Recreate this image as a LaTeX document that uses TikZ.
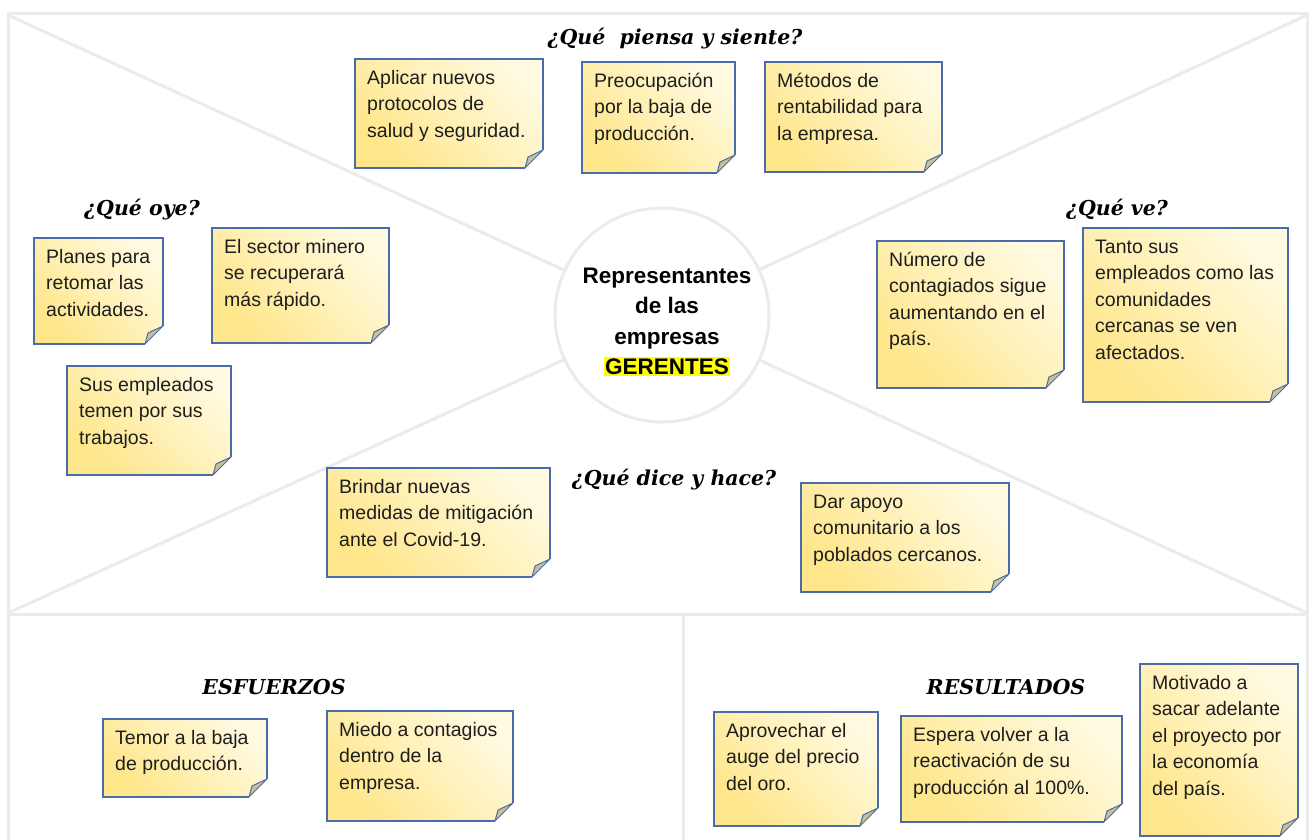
\documentclass[tikz,border=0pt]{standalone}
\usepackage{fontspec}
\setmainfont{Liberation Sans}
\newfontfamily\headfont{DejaVu Serif}
\definecolor{framecol}{HTML}{EBEBEB}
\definecolor{notelight}{HTML}{FFFAE0}
\definecolor{notedark}{HTML}{FFE68A}
\definecolor{noteedge}{HTML}{4A6CA8}
\definecolor{foldcol}{HTML}{C9BF98}
\definecolor{inkcol}{HTML}{1E1E1E}
\definecolor{hilite}{HTML}{FFFF00}
\newcommand\snote[6]{%
  \shade[bottom color=notedark, top color=notelight, shading angle=-45]
    (#2,#3) -- (#4,#3) -- (#4,#5-18) -- (#4-18,#5) -- (#2,#5) -- cycle;
  \draw[noteedge, line width=1.1pt, line join=miter]
    (#4-18,#5) -- (#2,#5) -- (#2,#3) -- (#4,#3) -- (#4,#5-18);
  \filldraw[fill=foldcol, draw=noteedge, line width=1pt, line join=round]
    (#4,#5-18) -- (#4-18,#5) -- (#4-15,#5-11) -- cycle;
  \node[notetext, anchor=north west] (#1) at (#2+12,#3+10) {\rule{0pt}{15pt}#6};
}
\begin{document}
\begin{tikzpicture}[x=1pt,y=-1pt,
  frameline/.style={draw=framecol, line width=3pt},
  notetext/.style={inner sep=0pt, align=left, text=inkcol,
    font=\fontsize{19.5}{26.5}\selectfont},
  headtext/.style={inner sep=0pt, text=black,
    font=\headfont\bfseries\itshape\fontsize{20.5}{24}\selectfont}]
\useasboundingbox (0,0) rectangle (1315,839);
\clip (0,0) rectangle (1315,839);
\fill[white] (0,0) rectangle (1315,839);
% frame
\coordinate (ctl) at (8,15);
\coordinate (ctr) at (1307,15);
\coordinate (cbl) at (8,613);
\coordinate (cbr) at (1307,613);
\draw[frameline] (8,13) rectangle (1307,860);
\draw[frameline] (8,614) -- (1307,614);
\draw[frameline] (683,614) -- (683,860);
\node[circle, minimum size=214pt, inner sep=0pt, draw=framecol, line width=3pt, fill=white] (hub) at (662,315) {};
\draw[frameline] (ctl) -- (hub);
\draw[frameline] (ctr) -- (hub);
\draw[frameline] (cbl) -- (hub);
\draw[frameline] (cbr) -- (hub);
\node[align=center, text=black, font=\bfseries\fontsize{22.5}{30.5}\selectfont] (hubtext) at (667,322)
  {Representantes\\de las\\empresas\\{\setlength\fboxsep{1.5pt}\colorbox{hilite}{GERENTES}}};
% headings
\node[headtext, anchor=base] (hthink) at (675,44) {¿Qué\ \ piensa y siente?};
\node[headtext, anchor=base] (hhear) at (142,215) {¿Qué oye?};
\node[headtext, anchor=base] (hsee) at (1117,215) {¿Qué ve?};
\node[headtext, anchor=base] (hsay) at (674,485) {¿Qué dice y hace?};
\node[headtext, anchor=base] (hpain) at (274,694) {ESFUERZOS};
\node[headtext, anchor=base] (hgain) at (1006,694) {RESULTADOS};
% notes
\snote{n1}{355}{59}{543}{168}{Aplicar nuevos\\protocolos de\\salud y seguridad.}
\snote{n2}{582}{62}{735}{173}{Preocupación\\por la baja de\\producción.}
\snote{n3}{765}{62}{942}{172}{Métodos de\\rentabilidad para\\la empresa.}
\snote{n4}{34}{238}{163}{344}{Planes para\\retomar las\\actividades.}
\snote{n5}{212}{228}{389}{343}{El sector minero\\se recuperará\\más rápido.}
\snote{n6}{67}{366}{231}{475}{Sus empleados\\temen por sus\\trabajos.}
\snote{n7}{877}{241}{1064}{388}{Número de\\contagiados sigue\\aumentando en el\\país.}
\snote{n8}{1083}{228}{1288}{402}{Tanto sus\\empleados como las\\comunidades\\cercanas se ven\\afectados.}
\snote{n9}{327}{468}{550}{577}{Brindar nuevas\\medidas de mitigación\\ante el Covid-19.}
\snote{n10}{801}{483}{1009}{592}{Dar apoyo\\comunitario a los\\poblados cercanos.}
\snote{n11}{103}{719}{267}{797}{Temor a la baja\\de producción.}
\snote{n12}{327}{711}{513}{821}{Miedo a contagios\\dentro de la\\empresa.}
\snote{n13}{714}{712}{878}{826}{Aprovechar el\\auge del precio\\del oro.}
\snote{n14}{901}{716}{1122}{822}{Espera volver a la\\reactivación de su\\producción al 100\%.}
\snote{n15}{1140}{664}{1298}{836}{Motivado a\\sacar adelante\\el proyecto por\\la economía\\del país.}
\end{tikzpicture}
\end{document}
